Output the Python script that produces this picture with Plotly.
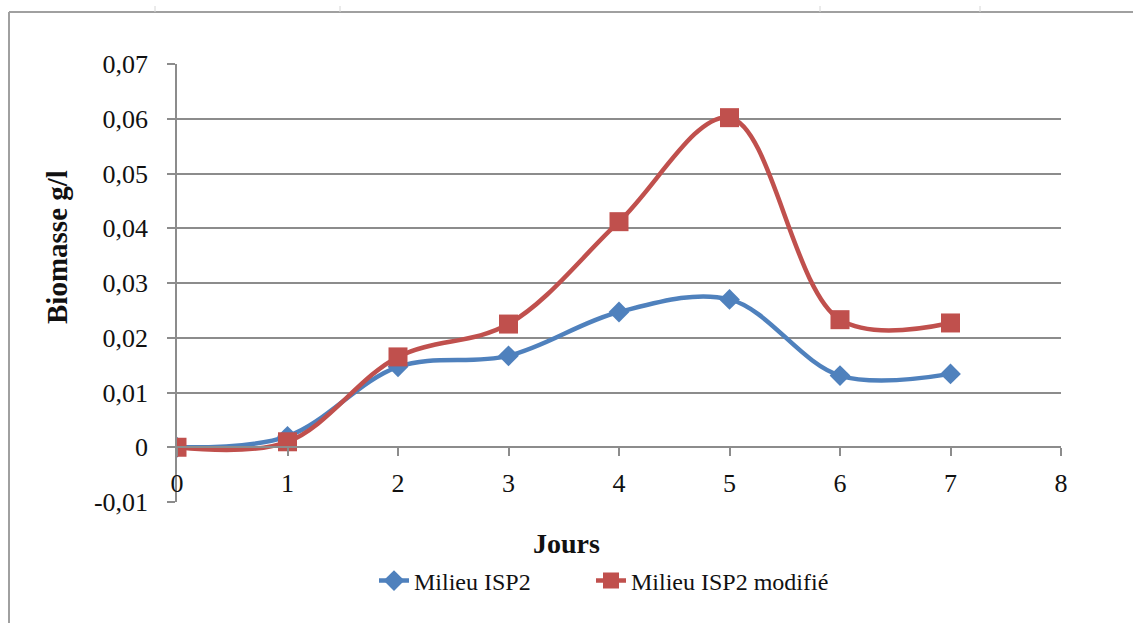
import plotly.graph_objects as go

# Biomass growth over days for the two culture media
jours = [0, 1, 2, 3, 4, 5, 6, 7]
isp2 = [0.0, 0.002, 0.0147, 0.0167, 0.0247, 0.027, 0.0131, 0.0134]
isp2_modifie = [0.0, 0.001, 0.0165, 0.0225, 0.0412, 0.0602, 0.0233, 0.0227]

y_ticks = [-0.01, 0, 0.01, 0.02, 0.03, 0.04, 0.05, 0.06, 0.07]
y_ticktext = ["-0,01", "0", "0,01", "0,02", "0,03", "0,04", "0,05", "0,06", "0,07"]
x_ticks = [0, 1, 2, 3, 4, 5, 6, 7, 8]

W, H = 1133, 623
L, R, T, B = 177, 72, 64, 121
PW, PH = W - L - R, H - T - B


def px_x(x):
    return (x - L) / PW


def px_y(y):
    return (H - B - y) / PH


FONT = "Liberation Serif"
TEXT = "#111111"
AXIS_GREY = "#8c8c8c"

fig = go.Figure()
fig.add_trace(go.Scatter(
    x=jours, y=isp2, name="Milieu ISP2",
    mode="lines+markers",
    line=dict(color="#4f81bd", width=4.5, shape="spline", smoothing=1.0),
    marker=dict(symbol="diamond", size=16, color="#4f81bd"),
    legend="legend",
))
fig.add_trace(go.Scatter(
    x=jours, y=isp2_modifie, name="Milieu ISP2 modifié",
    mode="lines+markers",
    line=dict(color="#c0504d", width=4.5, shape="spline", smoothing=1.0),
    marker=dict(symbol="square", size=19, color="#c0504d"),
    legend="legend2",
))

legend_style = dict(
    orientation="h", xanchor="left", y=px_y(581), yanchor="middle",
    font=dict(family=FONT, size=24, color=TEXT),
    bgcolor="rgba(0,0,0,0)",
)

fig.update_layout(
    width=W, height=H,
    margin=dict(l=L, r=R, t=T, b=B),
    paper_bgcolor="white", plot_bgcolor="white",
    separators=", ",
    font=dict(family=FONT, color=TEXT, size=26),
    showlegend=True,
    legend=dict(x=px_x(374), **legend_style),
    legend2=dict(x=px_x(591), **legend_style),
    xaxis=dict(
        range=[0, 8], tickvals=x_ticks, anchor="free", position=0.125,
        showgrid=False, zeroline=False,
        showline=True, linecolor=AXIS_GREY, linewidth=1.5,
        ticks="outside", ticklen=8, tickcolor=AXIS_GREY, tickwidth=1.5,
        ticklabelstandoff=5,
        tickfont=dict(family=FONT, size=26, color=TEXT),
    ),
    yaxis=dict(
        range=[-0.01, 0.07], tickvals=y_ticks, ticktext=y_ticktext,
        showgrid=True, gridcolor=AXIS_GREY, gridwidth=1.5, zeroline=False,
        showline=True, linecolor=AXIS_GREY, linewidth=1.5,
        ticks="outside", ticklen=8, tickcolor=AXIS_GREY, tickwidth=1.5,
        ticklabelstandoff=14,
        tickfont=dict(family=FONT, size=26, color=TEXT),
    ),
)

# Axis titles
fig.add_annotation(
    text="<b>Biomasse g/l</b>", textangle=-90, showarrow=False,
    xref="paper", yref="paper", x=px_x(57), y=px_y(247),
    xanchor="center", yanchor="middle",
    font=dict(family=FONT, size=29, color=TEXT),
)
fig.add_annotation(
    text="<b>Jours</b>", showarrow=False,
    xref="paper", yref="paper", x=px_x(566), y=px_y(543),
    xanchor="center", yanchor="middle",
    font=dict(family=FONT, size=28, color=TEXT),
)

# Chart frame (left and top edges)
frame = dict(color="#a0a0a0", width=2)
fig.add_shape(type="line", xref="paper", yref="paper",
              x0=px_x(9), x1=px_x(W + 5), y0=px_y(12), y1=px_y(12), line=frame)
fig.add_shape(type="line", xref="paper", yref="paper",
              x0=px_x(9), x1=px_x(9), y0=px_y(12), y1=px_y(H + 5), line=frame)

# Sheet cell boundaries above the frame
for cx in [155, 340, 820, 980]:
    fig.add_shape(type="line", xref="paper", yref="paper",
                  x0=px_x(cx), x1=px_x(cx), y0=px_y(6), y1=px_y(12),
                  line=dict(color="#d6d6d6", width=1))

fig.write_html("out.html")
